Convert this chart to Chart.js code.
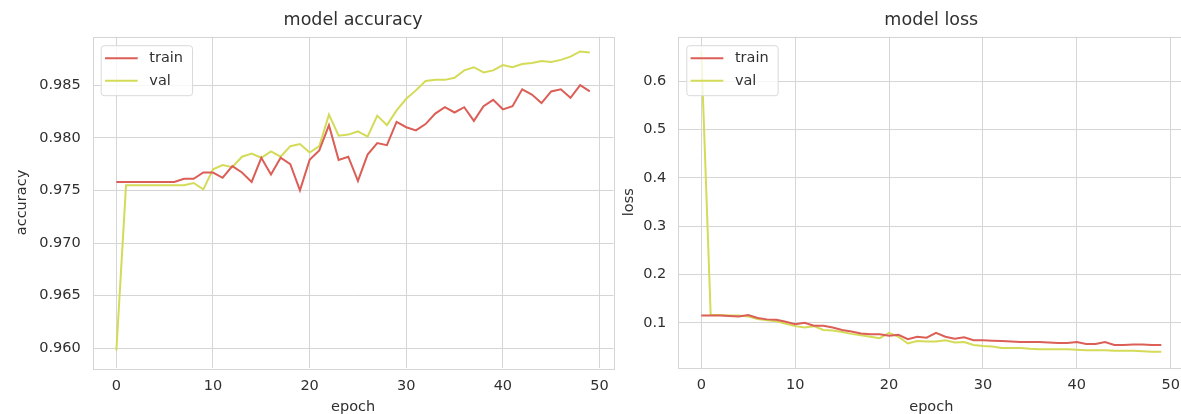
<!DOCTYPE html>
<html>
<head>
<meta charset="utf-8">
<title>model accuracy / model loss</title>
<script src="https://cdn.jsdelivr.net/npm/chart.js@4/dist/chart.umd.min.js"></script>
<style>
  html, body { margin: 0; padding: 0; background: #fff; }
  #wrap { position: relative; width: 1181px; height: 414px; overflow: hidden; }
  .panel { position: absolute; top: 0; }
</style>
</head>
<body>
<div id="wrap">
  <div class="panel" style="left:0"><canvas id="accChart" width="640" height="414"></canvas></div>
  <div class="panel" style="left:600px"><canvas id="lossChart" width="600" height="414"></canvas></div>
</div>
<script>
// data
const epochs = [0, 1, 2, 3, 4, 5, 6, 7, 8, 9, 10, 11, 12, 13, 14, 15, 16, 17, 18, 19,
  20, 21, 22, 23, 24, 25, 26, 27, 28, 29, 30, 31, 32, 33, 34, 35, 36, 37, 38, 39,
  40, 41, 42, 43, 44, 45, 46, 47, 48, 49];

const trainAcc = [0.9758, 0.9758, 0.9758, 0.9758, 0.9758, 0.9758, 0.9758, 0.9761, 0.9761, 0.9767,
  0.9767, 0.9762, 0.9773, 0.9767, 0.9758, 0.9781, 0.9765, 0.9781, 0.9775, 0.9750,
  0.9779, 0.9788, 0.9812, 0.9779, 0.9782, 0.9759, 0.9784, 0.9795, 0.9793, 0.9815,
  0.9810, 0.9807, 0.9813, 0.9823, 0.9829, 0.9824, 0.9829, 0.9816, 0.9830, 0.9836,
  0.9827, 0.9830, 0.9846, 0.9841, 0.9833, 0.9844, 0.9846, 0.9838, 0.9850, 0.9844];

const valAcc = [0.9598, 0.9755, 0.9755, 0.9755, 0.9755, 0.9755, 0.9755, 0.9755, 0.9757, 0.9751,
  0.9770, 0.9774, 0.9772, 0.9782, 0.9785, 0.9781, 0.9787, 0.9782, 0.9792, 0.9794,
  0.9786, 0.9792, 0.9822, 0.9802, 0.9803, 0.9806, 0.9801, 0.9821, 0.9812, 0.9826,
  0.9837, 0.9845, 0.9854, 0.9855, 0.9855, 0.9857, 0.9864, 0.9867, 0.9862, 0.9864,
  0.9869, 0.9867, 0.9870, 0.9871, 0.9873, 0.9872, 0.9874, 0.9877, 0.9882, 0.9881];

const trainLoss = [0.115, 0.115, 0.115, 0.114, 0.113, 0.116, 0.110, 0.107, 0.106, 0.102,
  0.097, 0.100, 0.094, 0.094, 0.090, 0.085, 0.082, 0.078, 0.076, 0.076,
  0.073, 0.075, 0.066, 0.071, 0.069, 0.079, 0.071, 0.067, 0.070, 0.064,
  0.064, 0.063, 0.062, 0.061, 0.060, 0.060, 0.060, 0.059, 0.058, 0.058,
  0.060, 0.056, 0.056, 0.060, 0.054, 0.054, 0.055, 0.055, 0.054, 0.054];

const valLoss = [0.663, 0.116, 0.116, 0.115, 0.115, 0.113, 0.108, 0.105, 0.103, 0.098,
  0.093, 0.090, 0.093, 0.085, 0.084, 0.081, 0.077, 0.074, 0.071, 0.068,
  0.079, 0.071, 0.057, 0.062, 0.061, 0.061, 0.064, 0.059, 0.060, 0.054,
  0.052, 0.051, 0.048, 0.048, 0.048, 0.046, 0.045, 0.045, 0.045, 0.045,
  0.044, 0.043, 0.043, 0.043, 0.042, 0.042, 0.042, 0.041, 0.040, 0.040];

const seriesNames = ['train', 'val'];
const epochTicks = [0, 10, 20, 30, 40, 50];
const accTicks = [0.960, 0.965, 0.970, 0.975, 0.980, 0.985];
const lossTicks = [0.1, 0.2, 0.3, 0.4, 0.5, 0.6];

const FONT = '"DejaVu Sans", "Liberation Sans", sans-serif';
const textColor = '#303030';
const gridColor = '#d5d5d5';
const colors = ['#db5f57', '#d3db57'];

// matplotlib-like frame round the plot and a boxed legend in the upper left
const framePlugin = {
  id: 'frame',
  beforeDatasetsDraw(chart) {
    const { ctx, chartArea: a } = chart;
    ctx.save();
    ctx.strokeStyle = gridColor;
    ctx.lineWidth = 1;
    ctx.strokeRect(Math.round(a.left) + 0.5, Math.round(a.top) + 0.5,
      Math.round(a.right - a.left), Math.round(a.bottom - a.top));
    ctx.restore();
  },
  afterDraw(chart) {
    const { ctx, chartArea: a } = chart;
    const x = a.left + 8;
    const y = a.top + 8.5;
    ctx.save();
    ctx.font = '14.5px ' + FONT;
    const textW = Math.max(...chart.data.datasets.map(d => ctx.measureText(d.label).width));
    const w = 48.6 + textW + 9;
    const h = 50;
    ctx.beginPath();
    if (ctx.roundRect) ctx.roundRect(x + 0.5, y + 0.5, w, h, 3);
    else ctx.rect(x + 0.5, y + 0.5, w, h);
    ctx.fillStyle = 'rgba(255,255,255,0.8)';
    ctx.fill();
    ctx.strokeStyle = '#d9d9d9';
    ctx.lineWidth = 1;
    ctx.stroke();
    chart.data.datasets.forEach((ds, i) => {
      const ly = y + 13 + i * 22.6;
      ctx.beginPath();
      ctx.moveTo(x + 4.3, ly);
      ctx.lineTo(x + 37, ly);
      ctx.strokeStyle = ds.borderColor;
      ctx.lineWidth = 2;
      ctx.stroke();
      ctx.fillStyle = textColor;
      ctx.textBaseline = 'middle';
      ctx.textAlign = 'left';
      ctx.fillText(ds.label, x + 48.6, ly);
    });
    ctx.restore();
  }
};

function makeChart(id, opts) {
  const datasets = opts.series.map((s, i) => ({
    label: seriesNames[i],
    data: s.map((v, j) => ({ x: epochs[j], y: v })),
    borderColor: colors[i],
    borderWidth: 2,
    pointRadius: 0,
    tension: 0,
    fill: false
  }));

  return new Chart(document.getElementById(id), {
    type: 'line',
    data: { datasets },
    plugins: [framePlugin],
    options: {
      responsive: false,
      animation: false,
      events: [],
      layout: { padding: { left: 0, right: opts.padRight, top: 0, bottom: 0 } },
      plugins: {
        legend: { display: false },
        tooltip: { enabled: false },
        title: {
          display: true,
          text: opts.title,
          fullSize: false,
          color: textColor,
          font: { family: FONT, size: 17.5, weight: 'normal', lineHeight: 1.2 },
          padding: { top: 10, bottom: 5.7 }
        }
      },
      scales: {
        x: {
          type: 'linear',
          min: -2.45,
          max: 51.45,
          afterBuildTicks: scale => { scale.ticks = epochTicks.map(v => ({ value: v })); },
          afterFit: scale => { scale.height = opts.xHeight; },
          grid: { color: gridColor, lineWidth: 1, drawTicks: false },
          border: { display: false },
          ticks: {
            color: textColor,
            padding: 9,
            autoSkip: false,
            maxRotation: 0,
            font: { family: FONT, size: 14.5 },
            callback: v => String(v)
          },
          title: {
            display: true,
            text: 'epoch',
            color: textColor,
            font: { family: FONT, size: 14.5, lineHeight: 1 },
            padding: { top: 0, bottom: 0 }
          }
        },
        y: {
          type: 'linear',
          min: opts.yMin,
          max: opts.yMax,
          afterBuildTicks: scale => { scale.ticks = opts.yTicks.map(v => ({ value: v })); },
          afterFit: scale => { scale.width = opts.yWidth; },
          grid: { color: gridColor, lineWidth: 1, drawTicks: false },
          border: { display: false },
          ticks: {
            color: textColor,
            padding: 12,
            autoSkip: false,
            font: { family: FONT, size: 14.5 },
            callback: v => Number(v).toFixed(opts.decimals)
          },
          title: {
            display: true,
            text: opts.yLabel,
            color: textColor,
            font: { family: FONT, size: 14.5, lineHeight: 1.2 },
            padding: { top: opts.yTitlePad, bottom: 0 }
          }
        }
      }
    }
  });
}

makeChart('accChart', {
  title: 'model accuracy',
  yLabel: 'accuracy',
  series: [trainAcc, valAcc],
  yTicks: accTicks,
  yMin: 0.9581,
  yMax: 0.9896,
  decimals: 3,
  yWidth: 92.7,
  yTitlePad: 13.3,
  xHeight: 45.7,
  padRight: 26.5
});

makeChart('lossChart', {
  title: 'model loss',
  yLabel: 'loss',
  series: [trainLoss, valLoss],
  yTicks: lossTicks,
  yMin: 0.007,
  yMax: 0.692,
  decimals: 1,
  yWidth: 78.3,
  yTitlePad: 20.3,
  xHeight: 46.3,
  padRight: 15.7
});
</script>
</body>
</html>
